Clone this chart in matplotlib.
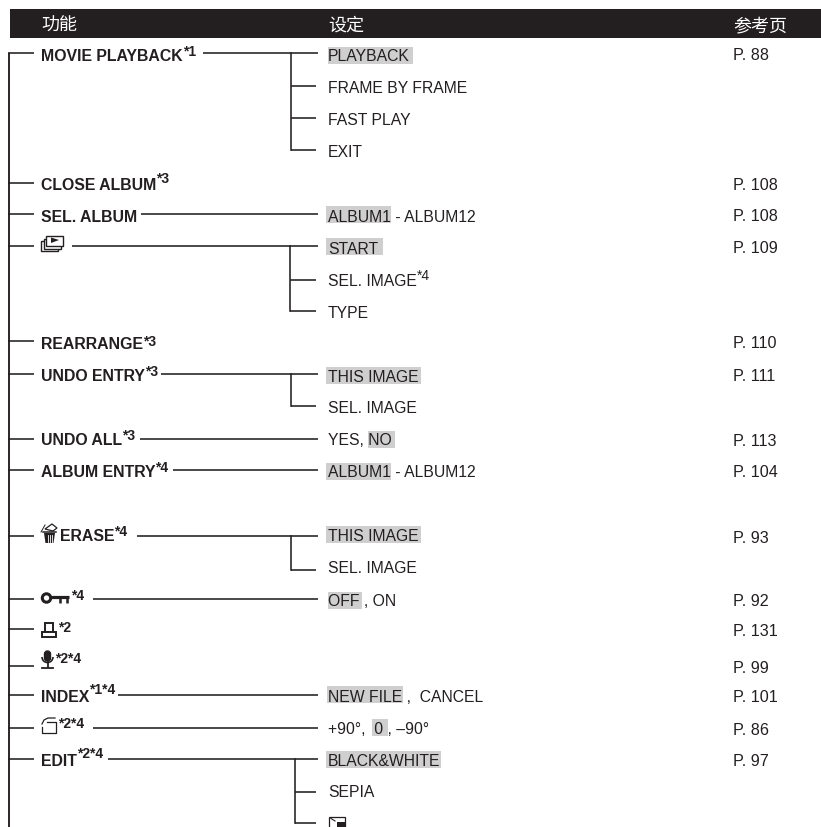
import matplotlib
matplotlib.use("Agg")
import matplotlib.pyplot as plt
from matplotlib.patches import Rectangle, Circle, Polygon, FancyBboxPatch, Arc

plt.rcParams['font.family'] = ['Liberation Sans', 'Noto Sans CJK SC', 'DejaVu Sans']

INK = '#231f20'
GREY = '#cfcfcf'

# Header
header_labels = ['功能', '设定', '参考页']
header_x = [41, 328, 733]

# Functions: name, footnote marks, row y
func_names = ['MOVIE PLAYBACK', 'CLOSE ALBUM', 'SEL. ALBUM', '', 'REARRANGE', 'UNDO ENTRY', 'UNDO ALL',
              'ALBUM ENTRY', 'ERASE', '', '', '', 'INDEX', '', 'EDIT']
func_sups = ['*1', '*3', '', '', '*3', '*3', '*3', '*4', '*4', '*4', '*2', '*2*4', '*1*4', '*2*4', '*2*4']
func_y = [53, 183, 214, 246, 341, 374, 439, 470, 536, 599, 629, 666, 695, 728, 759]
func_x = [41, 41, 41, 41, 41, 41, 41, 41, 60, 71, 58, 55, 41, 58, 41]
func_base = [61, 190, 222, 0, 349, 381, 445, 477, 541, 0, 0, 0, 702, 0, 766]
sup_base = [56, 183, 0, 0, 346, 376, 440, 472, 536, 600, 632, 663, 694, 728, 758]

# Connector from the function label to the settings (0 = none)
conn_start = [203, 0, 141, 72, 0, 161, 140, 173, 137, 93, 0, 0, 118, 93, 108]

# Settings, with text baselines
set_labels = ['PLAYBACK', 'FRAME BY FRAME', 'FAST PLAY', 'EXIT', 'ALBUM1 - ALBUM12', 'START', 'SEL. IMAGE', 'TYPE',
              'THIS IMAGE', 'SEL. IMAGE', 'YES, NO', 'ALBUM1 - ALBUM12', 'THIS IMAGE', 'SEL. IMAGE', 'OFF , ON',
              'NEW FILE ,  CANCEL', '+90°,  0 , –90°', 'BLACK&WHITE', 'SEPIA']
set_base = [61, 93, 125, 157, 222, 254, 286, 318, 382, 413, 445, 477, 541, 573, 606, 702, 734, 766, 797]

# Grey default-setting boxes: x0, x1, top y
hl_x0 = [328, 326, 326, 326, 368, 326, 326, 328, 327, 372, 326]
hl_x1 = [413, 391, 383, 421, 395, 391, 421, 362, 403, 388, 441]
hl_top = [47, 206, 238, 367, 431, 463, 526, 592, 686, 719, 751]

# Tree branches: junction x, first row, other rows
tree_x = [291, 290, 291, 291, 295]
tree_rows = [[53, 86, 118, 150], [246, 280, 311], [374, 406], [536, 570], [759, 792, 823]]

# Page references
page_labels = ['P. 88', 'P. 108', 'P. 108', 'P. 109', 'P. 110', 'P. 111', 'P. 113', 'P. 104', 'P. 93', 'P. 92',
               'P. 131', 'P. 99', 'P. 101', 'P. 86', 'P. 97']

fig = plt.figure(figsize=(8.21, 8.27), dpi=100)
ax = fig.add_axes([0, 0, 1, 1])
ax.set_xlim(0, 821)
ax.set_ylim(827, 0)
ax.axis('off')

# Header bar
ax.add_patch(Rectangle((10, 9), 811, 29, fc=INK, ec='none'))
for x, label in zip(header_x, header_labels):
    ax.text(x, 31, label, color='white', fontsize=13, va='baseline', family=['Noto Sans CJK SC'])

# Trunk and branches
LW = 1.15
ax.plot([8.5, 8.5], [827, 53], color=INK, lw=LW + 0.2, solid_capstyle='butt')
for y in func_y:
    ax.plot([8, 34], [y, y], color=INK, lw=LW, solid_capstyle='butt')

for start, y in zip(conn_start, func_y):
    if start:
        ax.plot([start, 318], [y, y], color=INK, lw=LW, solid_capstyle='butt')

for x, rows in zip(tree_x, tree_rows):
    ax.plot([x, x], [rows[0], rows[-1]], color=INK, lw=LW, solid_capstyle='projecting')
    for y in rows[1:]:
        ax.plot([x, 316], [y, y], color=INK, lw=LW, solid_capstyle='butt')

# Highlights
for x0, x1, top in zip(hl_x0, hl_x1, hl_top):
    ax.add_patch(Rectangle((x0, top), x1 - x0, 16.5, fc=GREY, ec='none', zorder=1))

# Function labels and footnote marks
fig.canvas.draw()
renderer = fig.canvas.get_renderer()
for name, sup, x, base, sbase in zip(func_names, func_sups, func_x, func_base, sup_base):
    end = x
    if name:
        t = ax.text(x, base, name, color=INK, fontsize=11.4, fontweight='bold', va='baseline', zorder=3)
        end = x + t.get_window_extent(renderer).width
    if sup:
        ax.text(end, sbase, sup, color=INK, fontsize=10, fontweight='bold', va='baseline', zorder=3)

# Settings and pages
for i, (label, base) in enumerate(zip(set_labels, set_base)):
    t = ax.text(328, base, label, color=INK, fontsize=11.35, va='baseline', zorder=3)
    if i == 6:
        end = 328 + t.get_window_extent(renderer).width
        ax.text(end, base - 6, '*4', color=INK, fontsize=10, va='baseline', zorder=3)

for label, y in zip(page_labels, func_y):
    ax.text(733, y + 7, label, color=INK, fontsize=11.6, va='baseline', zorder=3)


def slideshow_icon():
    for dx in (0, 2.5, 5):
        ax.add_patch(Rectangle((41 + dx, 241 - dx), 17, 10, fc='white', ec=INK, lw=1.0, zorder=3 + dx))
    ax.add_patch(Polygon([[51, 237.5], [51, 243], [59, 240]], fc=INK, ec='none', zorder=9))


def erase_icon():
    ax.add_patch(Polygon([[44, 533], [55, 533], [53.5, 543], [45.5, 543]], fc=INK, ec='none', zorder=3))
    for x in (47.5, 49.5, 51.5):
        ax.plot([x, x], [535, 541.5], color='white', lw=0.6, zorder=4)
    ax.plot([43, 56], [531.5, 531.5], color=INK, lw=1.1)
    ax.add_patch(Polygon([[45, 529], [52, 524], [57, 528], [53, 531]], fc='white', ec=INK, lw=0.9, zorder=3))
    ax.plot([41, 45], [532, 525], color=INK, lw=0.7)


def key_icon():
    ax.add_patch(Circle((46.5, 598), 4.2, fc='white', ec=INK, lw=2.2, zorder=3))
    ax.plot([51, 69], [596.5, 596.5], color=INK, lw=2.3, solid_capstyle='butt')
    ax.plot([60, 60], [596, 603], color=INK, lw=1.8, solid_capstyle='butt')
    ax.plot([67, 67], [596, 603], color=INK, lw=1.8, solid_capstyle='butt')


def print_icon():
    ax.add_patch(Rectangle((44.5, 623), 8, 9, fc='white', ec=INK, lw=1.4, zorder=3))
    ax.add_patch(Rectangle((41.5, 631.5), 14, 5.5, fc='white', ec=INK, lw=1.4, zorder=3))


def mic_icon():
    ax.add_patch(FancyBboxPatch((44.5, 651), 6, 10, boxstyle='round,pad=0,rounding_size=3', fc=INK, ec=INK, lw=1, zorder=3))
    ax.add_patch(Arc((47.5, 657), 11, 11, theta1=0, theta2=180, ec=INK, lw=1.2, zorder=3))
    ax.plot([47.5, 47.5], [662, 667], color=INK, lw=1.3)
    ax.plot([42, 53], [667.5, 667.5], color=INK, lw=1.3)


def rotate_icon():
    ax.plot([47, 55.5, 55.5, 42, 42], [722, 722, 733, 733, 727], color=INK, lw=0.9, zorder=4)
    ax.plot([42, 44, 48, 55], [724, 720, 718, 718], color=INK, lw=0.9, zorder=4)


def thumb_icon():
    ax.add_patch(Rectangle((328.5, 816.5), 16, 12, fc='white', ec=INK, lw=0.9, zorder=3))
    ax.add_patch(Rectangle((337, 821.5), 7.5, 7, fc=INK, ec='none', zorder=4))
    ax.plot([331, 335], [818.5, 821], color=INK, lw=0.8, zorder=4)


slideshow_icon()
erase_icon()
key_icon()
print_icon()
mic_icon()
rotate_icon()
thumb_icon()

fig.savefig('out.png', dpi=100)
